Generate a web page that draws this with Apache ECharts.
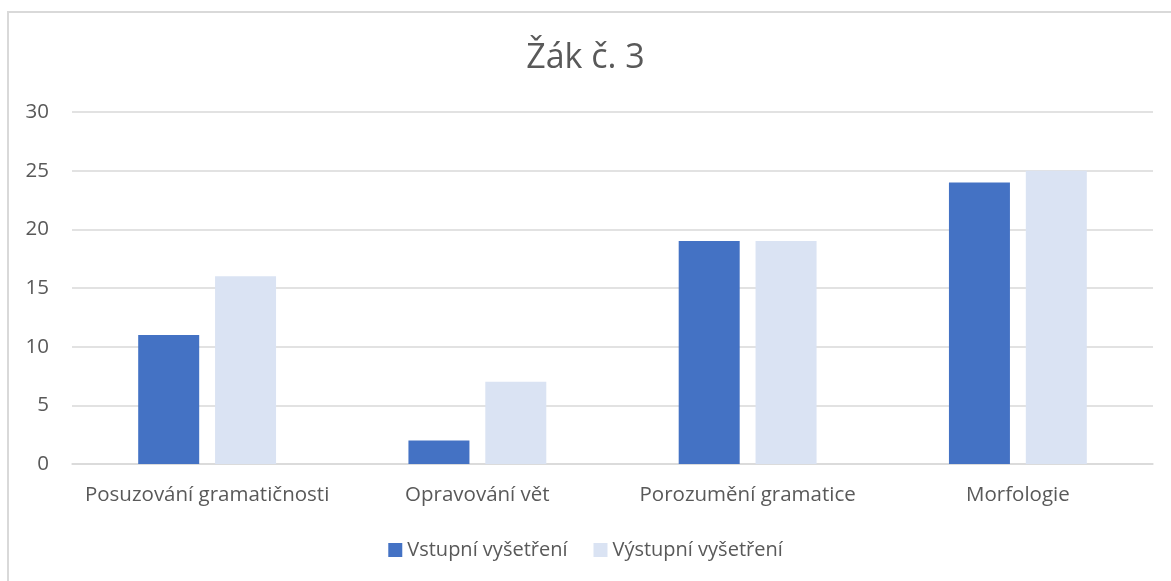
<!DOCTYPE html>
<html>
<head>
<meta charset="UTF-8">
<title>Žák č. 3</title>
<script src="https://cdn.jsdelivr.net/npm/echarts@6/dist/echarts.min.js"></script>
<style>
  html, body { margin: 0; padding: 0; background: #fff; }
  #chart { width: 1171px; height: 581px; }
</style>
</head>
<body>
<div id="chart"></div>
<script>
// data
var categories = ['Posuzování gramatičnosti', 'Opravování vět', 'Porozumění gramatice', 'Morfologie'];
var vstupni = [11, 2, 19, 24];
var vystupni = [16, 7, 19, 25];
var seriesNames = ['Vstupní vyšetření', 'Výstupní vyšetření'];

var font = '"Open Sans", "Noto Sans", sans-serif';
var chart = echarts.init(document.getElementById('chart'));

var option = {
  animation: false,
  textStyle: { fontFamily: font },
  graphic: [{
    type: 'rect',
    shape: { x: 8, y: 12, width: 1200, height: 600 },
    style: { fill: 'none', stroke: '#d9d9d9', lineWidth: 2 },
    silent: true
  }],
  title: {
    text: 'Žák č. 3',
    left: 'center',
    top: 36,
    textStyle: { fontFamily: font, fontSize: 34, fontWeight: 'normal', color: '#595959' }
  },
  legend: {
    data: seriesNames,
    bottom: 16,
    left: 'center',
    itemWidth: 14,
    itemHeight: 14,
    itemGap: 26,
    icon: 'rect',
    textStyle: { fontFamily: font, fontSize: 20, color: '#595959' }
  },
  grid: { left: 72, right: 18, top: 112, bottom: 117 },
  xAxis: {
    type: 'category',
    data: categories,
    axisTick: { show: false },
    axisLine: { lineStyle: { color: '#d9d9d9', width: 1.5 } },
    axisLabel: { fontFamily: font, fontSize: 20.5, color: '#595959', margin: 21, interval: 0 }
  },
  yAxis: {
    type: 'value',
    min: 0, max: 30, interval: 5,
    axisLine: { show: false },
    axisTick: { show: false },
    splitLine: { lineStyle: { color: '#d9d9d9', width: 1.5 } },
    axisLabel: { fontFamily: font, fontSize: 20.5, color: '#595959', margin: 23 }
  },
  series: [
    {
      name: seriesNames[0], type: 'bar', data: vstupni,
      barWidth: 61, barGap: '26%',
      itemStyle: { color: '#4472c4' }
    },
    {
      name: seriesNames[1], type: 'bar', data: vystupni,
      barWidth: 61,
      itemStyle: { color: '#dae3f3' }
    }
  ]
};
chart.setOption(option);
</script>
</body>
</html>
